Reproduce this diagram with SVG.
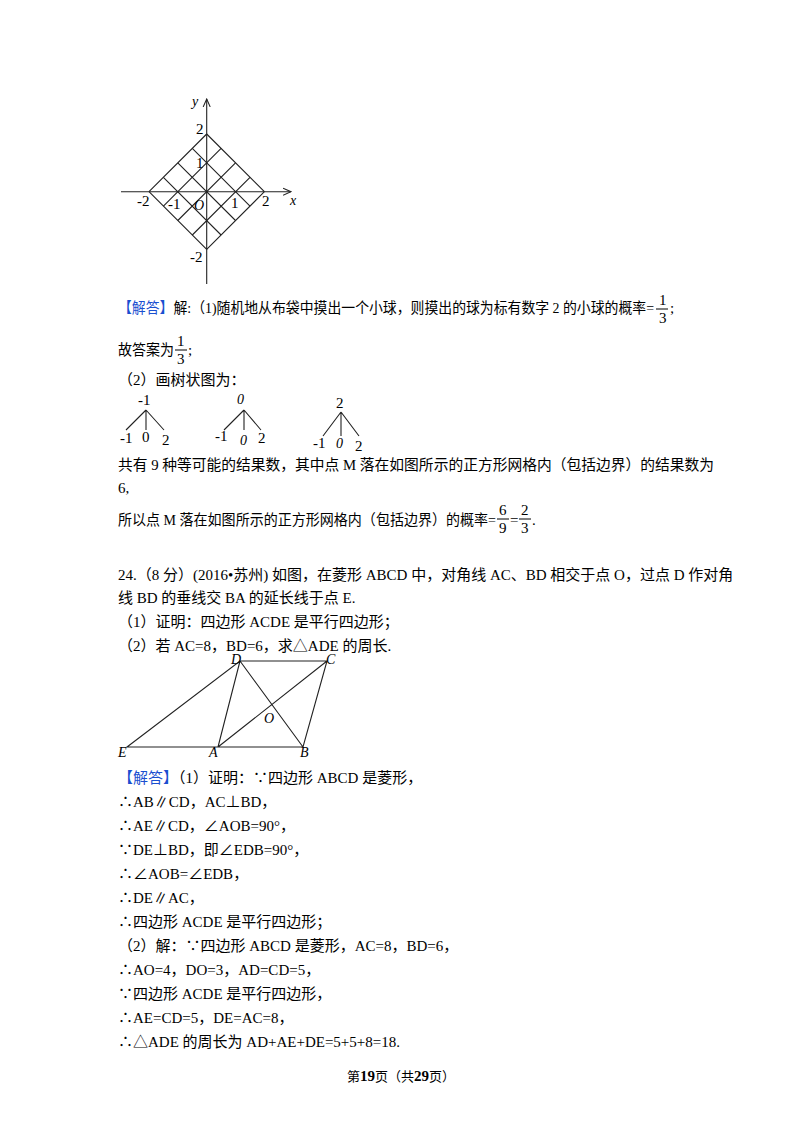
<svg xmlns="http://www.w3.org/2000/svg" width="800" height="1132" viewBox="0 0 800 1132">
<style>
.t{font-family:"Liberation Serif","Noto Sans CJK SC",serif;font-size:15px;fill:#000}
.i{font-family:"Liberation Serif",serif;font-size:14px;font-style:italic}
.g{stroke:#222;stroke-width:1.1;fill:none}
.b{fill:#1a4fd0}
</style>
<defs><marker id="ar" viewBox="0 0 10 10" refX="9" refY="5" markerWidth="8" markerHeight="8" orient="auto"><path d="M0,1 L9,5 L0,9" fill="none" stroke="#222" stroke-width="1.2"/></marker></defs>
<rect width="800" height="1132" fill="#fff"/>
<g id="grid">
<g class="g">
<path d="M149,191.7 L206.7,134 M163.4,206.1 L221.1,148.4 M177.8,220.5 L235.5,162.8 M192.3,235 L250,177.3 M206.7,249.4 L264.4,191.7"/>
<path d="M149,191.7 L206.7,249.4 M163.4,177.3 L221.1,235 M177.8,162.8 L235.5,220.5 M192.3,148.4 L250,206.1 M206.7,134 L264.4,191.7"/>
</g>
<line x1="121" y1="191.7" x2="291" y2="191.7" class="g" marker-end="url(#ar)"/>
<line x1="206.7" y1="284" x2="206.7" y2="99" class="g" marker-end="url(#ar)"/>
<text x="192" y="106" class="i">y</text><text x="290" y="205" class="i">x</text>
<text x="196" y="134" class="t" font-size="13">2</text><text x="196" y="168" class="t" font-size="13">1</text>
<text x="137" y="206" class="t" font-size="13">-2</text><text x="168" y="209" class="t" font-size="13">-1</text>
<text x="194" y="210" class="i">O</text><text x="231" y="208" class="t" font-size="13">1</text>
<text x="262" y="206" class="t" font-size="13">2</text><text x="190" y="262" class="t" font-size="13">-2</text>
</g>
<g id="text1">
<text x="118" y="313" class="t" textLength="536" lengthAdjust="spacingAndGlyphs"><tspan class="b">【解答】</tspan>解:（1)随机地从布袋中摸出一个小球，则摸出的球为标有数字 2 的小球的概率=</text>
<text x="659" y="305" class="t">1</text><line x1="656" y1="309" x2="668" y2="309" stroke="#000"/><text x="659" y="323" class="t">3</text><text x="670" y="313" class="t">;</text>
<text x="118" y="355" class="t" textLength="56" lengthAdjust="spacingAndGlyphs">故答案为</text><text x="177" y="346" class="t">1</text><line x1="175" y1="350" x2="187" y2="350" stroke="#000"/><text x="177" y="364" class="t">3</text><text x="188" y="355" class="t">;</text>
<text x="118" y="385" class="t">（2）画树状图为：</text>
</g>
<g id="trees" class="t" font-size="14">
<text x="138" y="405">-1</text><path d="M146,410 L126,430 M146,410 L146,430 M146,410 L164,430" class="g"/>
<text x="120" y="443">-1</text><text x="142" y="442">0</text><text x="162" y="445">2</text>
<text x="237" y="404" class="i">0</text><path d="M244,410 L224,430 M244,410 L244,430 M244,410 L261,430" class="g"/>
<text x="215" y="441">-1</text><text x="240" y="445" class="i">0</text><text x="258" y="443">2</text>
<text x="336" y="408">2</text><path d="M341,412 L323,436 M341,412 L341,436 M341,412 L359,436" class="g"/>
<text x="313" y="448">-1</text><text x="336" y="448" class="i">0</text><text x="355" y="451">2</text>
</g>
<g id="text2">
<text x="118" y="470" class="t" textLength="596" lengthAdjust="spacingAndGlyphs">共有 9 种等可能的结果数，其中点 M 落在如图所示的正方形网格内（包括边界）的结果数为</text>
<text x="118" y="493" class="t">6,</text>
<text x="118" y="525" class="t" textLength="378" lengthAdjust="spacingAndGlyphs">所以点 M 落在如图所示的正方形网格内（包括边界）的概率=</text>
<text x="499" y="515" class="t">6</text><line x1="497" y1="519" x2="509" y2="519" stroke="#000"/><text x="499" y="533" class="t">9</text>
<text x="510" y="525" class="t">=</text>
<text x="521" y="515" class="t">2</text><line x1="519" y1="519" x2="531" y2="519" stroke="#000"/><text x="521" y="533" class="t">3</text><text x="532" y="525" class="t">.</text>
<text x="118" y="580" class="t">24.（8 分）(2016•苏州) 如图，在菱形 ABCD 中，对角线 AC、BD 相交于点 O，过点 D 作对角</text>
<text x="118" y="603" class="t">线 BD 的垂线交 BA 的延长线于点 E.</text>
<text x="118" y="627" class="t">（1）证明：四边形 ACDE 是平行四边形；</text>
<text x="118" y="651" class="t">（2）若 AC=8，BD=6，求△ADE 的周长.</text>
</g>
<g id="rhombus">
<path d="M240,661 L327,661 L303,747 L127,747 Z M240,661 L218,747 M240,661 L303,747 M218,747 L327,661" class="g"/>
<text x="231" y="664" class="i">D</text><text x="326" y="664" class="i">C</text>
<text x="118" y="757" class="i">E</text><text x="209" y="757" class="i">A</text><text x="300" y="757" class="i">B</text>
<text x="264" y="723" class="i">O</text>
</g>
<g id="text3" class="t">
<text x="118" y="783"><tspan class="b">【解答】</tspan>（1）证明：∵四边形 ABCD 是菱形，</text>
<text x="118" y="807">∴AB∥CD，AC⊥BD，</text>
<text x="118" y="831">∴AE∥CD，∠AOB=90°，</text>
<text x="118" y="855">∵DE⊥BD，即∠EDB=90°，</text>
<text x="118" y="879">∴∠AOB=∠EDB，</text>
<text x="118" y="903">∴DE∥AC，</text>
<text x="118" y="927">∴四边形 ACDE 是平行四边形；</text>
<text x="118" y="951">（2）解：∵四边形 ABCD 是菱形，AC=8，BD=6，</text>
<text x="118" y="975">∴AO=4，DO=3，AD=CD=5，</text>
<text x="118" y="999">∵四边形 ACDE 是平行四边形，</text>
<text x="118" y="1023">∴AE=CD=5，DE=AC=8，</text>
<text x="118" y="1047">∴△ADE 的周长为 AD+AE+DE=5+5+8=18.</text>
<text x="347" y="1081" font-size="13">第<tspan font-weight="bold" font-size="15">19</tspan>页（共<tspan font-weight="bold" font-size="15">29</tspan>页）</text>
</g>
</svg>
